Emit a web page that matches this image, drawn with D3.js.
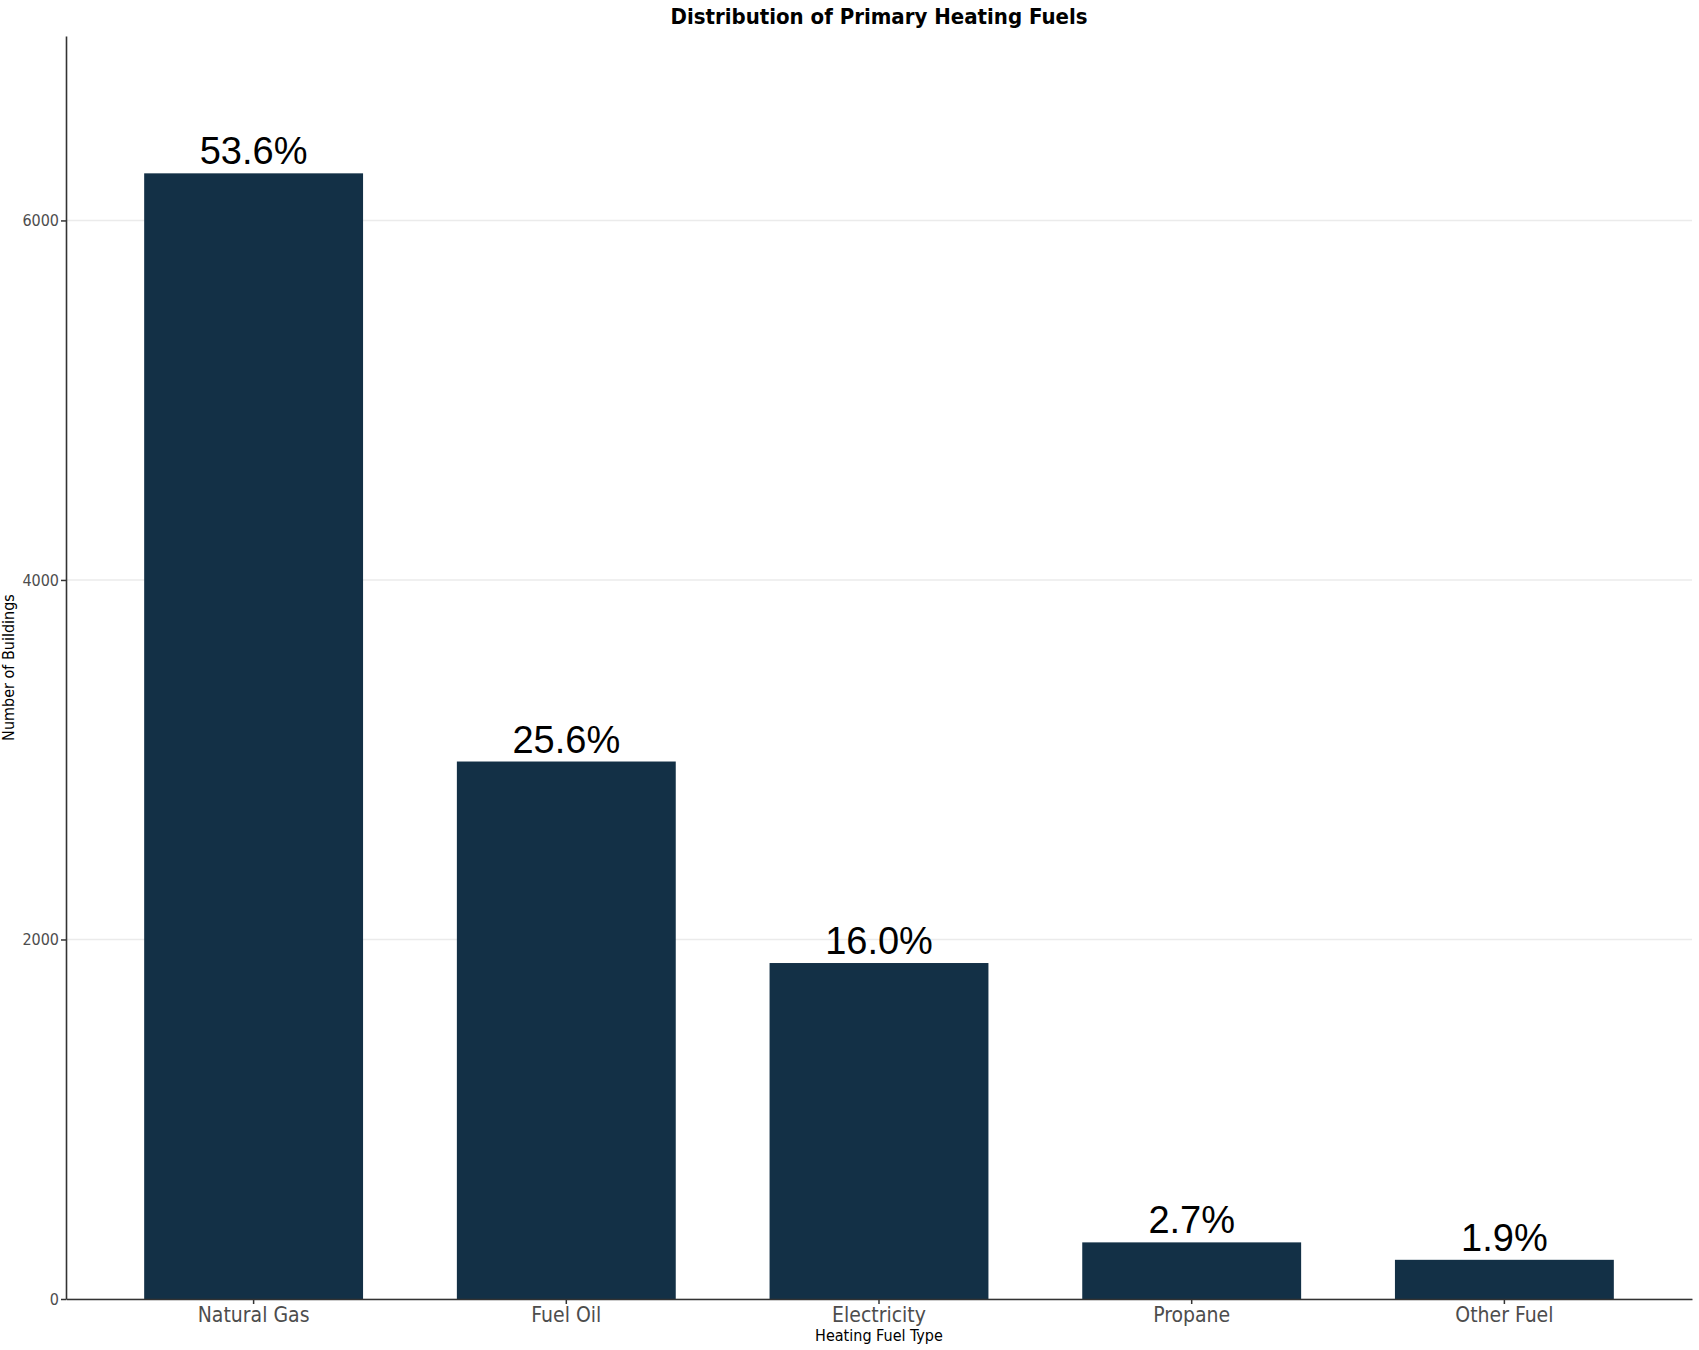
<!DOCTYPE html>
<html>
<head>
<meta charset="utf-8">
<script src="https://cdn.jsdelivr.net/npm/d3@7"></script>
<style>
  body { margin: 0; background: #fff; }
  text { font-family: "Liberation Sans Narrow", "DejaVu Sans Condensed", "Liberation Sans", sans-serif; }
</style>
</head>
<body>
<div id="chart"></div>
<script>
//Width and height
var w = 1699;
var h = 1350;

// data
var fuels = ["Natural Gas", "Fuel Oil", "Electricity", "Propane", "Other Fuel"];
var buildings = [6262, 2990, 1869, 315, 218];
var shares = ["53.6%", "25.6%", "16.0%", "2.7%", "1.9%"];
var yTicks = [0, 2000, 4000, 6000];

// plot area (top is a window global, so use other names)
var plotL = 66, plotR = 1692, plotT = 36, plotB = 1299;

var x = d3.scaleBand()
	.domain(fuels)
	.range([plotL, plotR])
	.paddingInner(0.3)
	.paddingOuter(0.25);

var y = d3.scaleLinear()
	.domain([0, 7026])
	.range([plotB, plotT]);

var svg = d3.select("#chart")
	.append("svg")
	.attr("width", w)
	.attr("height", h);

//gridlines
svg.selectAll("line.grid")
	.data(yTicks)
	.enter()
	.append("line")
	.attr("class", "grid")
	.attr("x1", plotL)
	.attr("x2", plotR)
	.attr("y1", function (d) { return y(d); })
	.attr("y2", function (d) { return y(d); })
	.attr("stroke", "#ebebeb")
	.attr("stroke-width", 1.5);

//bars
svg.selectAll("rect.bar")
	.data(buildings)
	.enter()
	.append("rect")
	.attr("class", "bar")
	.attr("x", function (d, i) { return x(fuels[i]); })
	.attr("width", x.bandwidth())
	.attr("y", function (d) { return y(d); })
	.attr("height", function (d) { return y(0) - y(d); })
	.attr("fill", "#133046");

//percent labels
svg.selectAll("text.share")
	.data(buildings)
	.enter()
	.append("text")
	.attr("class", "share")
	.attr("x", function (d, i) { return x(fuels[i]) + x.bandwidth() / 2; })
	.attr("y", function (d) { return y(d) - 9; })
	.attr("text-anchor", "middle")
	.style("font-family", "'Liberation Sans', Arial, sans-serif")
	.style("font-size", "38px")
	.attr("fill", "#000")
	.text(function (d, i) { return shares[i]; });

//axes
var xAxis = svg.append("g")
	.attr("transform", "translate(0," + plotB + ")")
	.call(d3.axisBottom(x).tickSize(5).tickSizeOuter(0));
xAxis.select(".domain").attr("stroke", "#333").attr("stroke-width", 1.6);
xAxis.selectAll(".tick line").attr("stroke", "#333").attr("stroke-width", 1.5);
xAxis.selectAll(".tick text")
	.style("font-size", "21px")
	.attr("fill", "#4d4d4d");

var yAxis = svg.append("g")
	.attr("transform", "translate(" + plotL + ",0)")
	.call(d3.axisLeft(y).tickValues(yTicks).tickFormat(d3.format("d")).tickSize(5).tickSizeOuter(0));
yAxis.select(".domain").attr("stroke", "#333").attr("stroke-width", 1.6);
yAxis.selectAll(".tick line").attr("stroke", "#333").attr("stroke-width", 1.5);
yAxis.selectAll(".tick text")
	.attr("x", -7)
	.style("font-size", "16px")
	.attr("fill", "#4d4d4d");

//titles
svg.append("text")
	.attr("x", (plotL + plotR) / 2)
	.attr("y", 24)
	.attr("text-anchor", "middle")
	.style("font-size", "22px")
	.style("font-weight", "bold")
	.text("Distribution of Primary Heating Fuels");

svg.append("text")
	.attr("x", (plotL + plotR) / 2)
	.attr("y", 1341)
	.attr("text-anchor", "middle")
	.style("font-size", "16px")
	.text("Heating Fuel Type");

svg.append("text")
	.attr("transform", "translate(14," + ((plotT + plotB) / 2) + ") rotate(-90)")
	.attr("text-anchor", "middle")
	.style("font-size", "16px")
	.text("Number of Buildings");
</script>
</body>
</html>
